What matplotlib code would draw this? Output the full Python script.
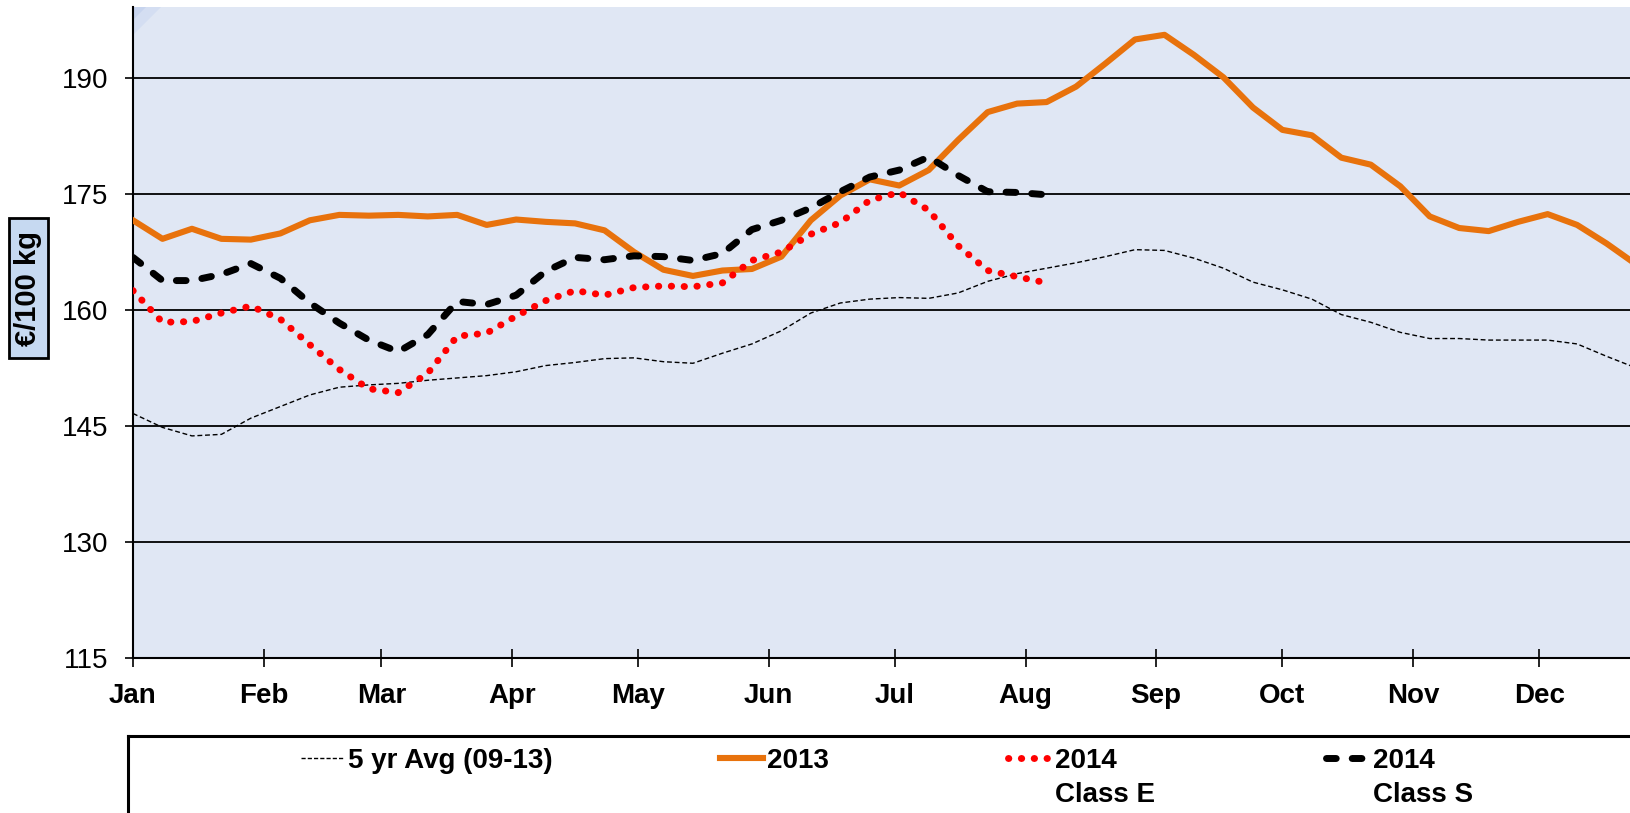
import numpy as np
import pandas as pd
import matplotlib
matplotlib.use("Agg")
import matplotlib.pyplot as plt
import matplotlib.dates as mdates
from matplotlib import font_manager
from matplotlib.patches import Rectangle, Polygon
from matplotlib.lines import Line2D

# weekly prices, €/100 kg
weeks = pd.date_range("2014-01-01", periods=52, freq="7D")

avg_5yr = [146.6, 144.8, 143.7, 143.9, 146.0, 147.5, 149.0, 150.0, 150.3, 150.5,
           150.9, 151.2, 151.5, 152.0, 152.8, 153.2, 153.7, 153.8, 153.3, 153.1,
           154.4, 155.6, 157.3, 159.6, 160.9, 161.4, 161.6, 161.5, 162.2, 163.7,
           164.7, 165.4, 166.1, 166.9, 167.8, 167.7, 166.7, 165.4, 163.6, 162.6,
           161.4, 159.4, 158.4, 157.1, 156.3, 156.3, 156.1, 156.1, 156.1, 155.6,
           154.0, 152.5]

y2013 = [171.6, 169.2, 170.5, 169.2, 169.1, 169.9, 171.6, 172.3, 172.2, 172.3,
         172.1, 172.3, 171.0, 171.7, 171.4, 171.2, 170.3, 167.5, 165.2, 164.4,
         165.1, 165.3, 166.9, 171.6, 174.8, 176.9, 176.1, 178.1, 182.0, 185.6,
         186.7, 186.9, 188.9, 191.9, 195.0, 195.6, 193.0, 190.1, 186.2, 183.3,
         182.6, 179.7, 178.8, 176.0, 172.1, 170.6, 170.2, 171.4, 172.4, 171.0,
         168.6, 165.9]

y2014_e = [162.5, 158.4, 158.5, 159.6, 160.5, 158.8, 155.5, 152.3, 149.8, 149.3,
           151.8, 156.6, 157.0, 159.2, 161.2, 162.5, 161.9, 162.9, 163.1, 163.0,
           163.5, 166.4, 167.5, 169.8, 171.3, 174.2, 175.2, 172.9, 168.3, 165.1,
           164.3, 163.5]

y2014_s = [166.8, 163.8, 163.8, 164.6, 166.0, 164.1, 160.9, 158.3, 156.1, 154.6,
           156.8, 161.1, 160.7, 161.9, 165.0, 166.8, 166.5, 167.0, 166.9, 166.4,
           167.3, 170.4, 171.6, 173.2, 175.3, 177.2, 178.1, 179.8, 177.4, 175.3,
           175.2, 174.9]

yticks = [115, 130, 145, 160, 175, 190]
labels = ["5 yr Avg (09-13)", "2013", "2014\nClass E", "2014\nClass S"]

ORANGE = "#E8720C"
RED = "#FF0000"
BG = "#E0E7F4"

names = {f.name for f in font_manager.fontManager.ttflist}
if "Liberation Sans Narrow" in names:
    tfont, tsize, lsize = "Liberation Sans Narrow", 21.5, 22
else:
    tfont, tsize, lsize = "Liberation Sans", 20, 20
plt.rcParams["font.family"] = [tfont, "Liberation Sans", "DejaVu Sans"]

W, H = 1631, 813
fig = plt.figure(figsize=(W / 100, H / 100), dpi=100)
ax = fig.add_axes([133 / W, (H - 657.7) / H, 1 - 133 / W, (657.7 - 7) / H])
ax.set_facecolor(BG)

# small shaded corner in the top left of the plot area
aw, ah = (W - 133), 650.7
ax.add_patch(Polygon([(0, 1), (28 / aw, 1), (0, 1 - 28 / ah)], closed=True,
                     transform=ax.transAxes, color="#D4DEF2", lw=0, zorder=0.5))
ax.add_patch(Polygon([(0, 1), (13 / aw, 1), (0, 1 - 13 / ah)], closed=True,
                     transform=ax.transAxes, color="#C7D4EE", lw=0, zorder=0.6))

red_dots = (0, (0.05, 1.8))
black_dash = (0, (1.4, 2.3))

ax.plot(weeks, avg_5yr, color="black", lw=1.0, linestyle=(0, (3.5, 2)), zorder=3)
ax.plot(weeks, y2013, color=ORANGE, lw=4.4, solid_joinstyle="round", zorder=4)
ax.plot(weeks[:len(y2014_e)], y2014_e, color=RED, lw=5,
        linestyle=red_dots, dash_capstyle="round", zorder=5)
ax.plot(weeks[:len(y2014_s)], y2014_s, color="black", lw=5,
        linestyle=black_dash, dash_capstyle="round", zorder=6)

start = mdates.date2num(pd.Timestamp("2014-01-01"))
ax.set_xlim(start, start + 355.8)
ax.set_ylim(115, 199.2)
ax.set_yticks(yticks)
ax.yaxis.grid(True, color="black", lw=1.3)
ax.set_axisbelow(True)

ax.xaxis.set_major_locator(mdates.MonthLocator())
ax.xaxis.set_major_formatter(mdates.DateFormatter("%b"))
ax.tick_params(axis="x", direction="inout", length=13, width=1.2, pad=12,
               labelsize=tsize)
ax.tick_params(axis="y", direction="out", length=5.5, width=1.2, pad=12,
               labelsize=tsize)
for t in ax.get_xticklabels():
    t.set_fontweight("bold")

for s in ["top", "right"]:
    ax.spines[s].set_visible(False)
ax.spines["left"].set_linewidth(1.5)
ax.spines["bottom"].set_linewidth(1.5)

# y label in a shaded box
fig.add_artist(Rectangle((9 / W, (H - 358) / H), 39 / W, 140 / H,
                         transform=fig.transFigure, facecolor="#C6D9F1",
                         edgecolor="black", lw=2))
fig.text(28.5 / W, (H - 288) / H, "€/100 kg", rotation=90, ha="center",
         va="center", fontsize=21, fontweight="bold",
         family=["Liberation Sans", "DejaVu Sans"])

# legend box below the chart
lax = fig.add_axes([128 / W, -0.03, 1.0, (H - 735.5) / H + 0.03])
lax.set_xlim(128, 128 + W)
lax.set_ylim(H + 0.03 * H, 735.5)
lax.set_facecolor("none")
lax.set_xticks([])
lax.set_yticks([])
for s in ["bottom", "right"]:
    lax.spines[s].set_visible(False)
for s in ["top", "left"]:
    lax.spines[s].set_linewidth(2.2)

handles = [
    dict(color="black", lw=1.0, linestyle=(0, (3, 1.5))),
    dict(color=ORANGE, lw=4.4),
    dict(color=RED, lw=5, linestyle=red_dots, dash_capstyle="round"),
    dict(color="black", lw=5, linestyle=black_dash, dash_capstyle="round"),
]
starts = [301, 720, 1008, 1326]
for x0, style, lab in zip(starts, handles, labels):
    lax.add_line(Line2D([x0, x0 + 43], [758, 758], **style))
    lax.text(x0 + 47, 748, lab, ha="left", va="top", fontsize=lsize,
             fontweight="bold", linespacing=1.4)

fig.savefig("out.png", dpi=100)
